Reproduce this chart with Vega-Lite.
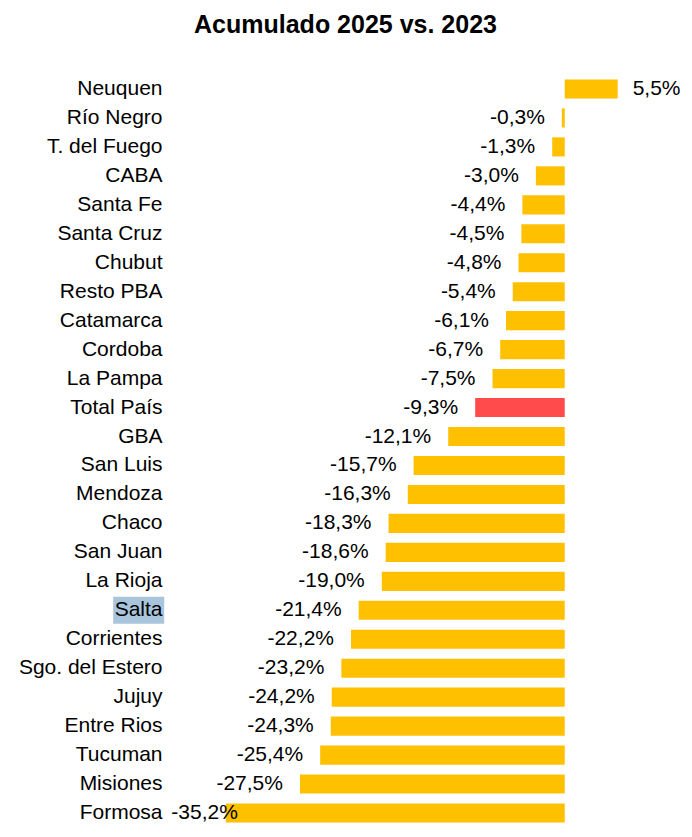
{
  "$schema": "https://vega.github.io/schema/vega-lite/v6.json",
  "autosize": {"type": "none"},
  "width": 491,
  "height": 753,
  "padding": {"left": 170, "top": 74.5, "right": 31, "bottom": 9.5},
  "background": "white",
  "title": {
    "text": "Acumulado 2025 vs. 2023",
    "font": "Liberation Sans",
    "fontWeight": "bold",
    "fontSize": 25,
    "color": "#000000",
    "anchor": "middle",
    "dx": -70,
    "offset": 37
  },
  "config": {"view": {"stroke": null}},
  "data": {
    "values": [
      {"name": "Neuquen", "value": 5.5, "label": "5,5%", "tipo": "Provincia"},
      {"name": "Río Negro", "value": -0.3, "label": "-0,3%", "tipo": "Provincia"},
      {"name": "T. del Fuego", "value": -1.3, "label": "-1,3%", "tipo": "Provincia"},
      {"name": "CABA", "value": -3.0, "label": "-3,0%", "tipo": "Provincia"},
      {"name": "Santa Fe", "value": -4.4, "label": "-4,4%", "tipo": "Provincia"},
      {"name": "Santa Cruz", "value": -4.5, "label": "-4,5%", "tipo": "Provincia"},
      {"name": "Chubut", "value": -4.8, "label": "-4,8%", "tipo": "Provincia"},
      {"name": "Resto PBA", "value": -5.4, "label": "-5,4%", "tipo": "Provincia"},
      {"name": "Catamarca", "value": -6.1, "label": "-6,1%", "tipo": "Provincia"},
      {"name": "Cordoba", "value": -6.7, "label": "-6,7%", "tipo": "Provincia"},
      {"name": "La Pampa", "value": -7.5, "label": "-7,5%", "tipo": "Provincia"},
      {"name": "Total País", "value": -9.3, "label": "-9,3%", "tipo": "Total"},
      {"name": "GBA", "value": -12.1, "label": "-12,1%", "tipo": "Provincia"},
      {"name": "San Luis", "value": -15.7, "label": "-15,7%", "tipo": "Provincia"},
      {"name": "Mendoza", "value": -16.3, "label": "-16,3%", "tipo": "Provincia"},
      {"name": "Chaco", "value": -18.3, "label": "-18,3%", "tipo": "Provincia"},
      {"name": "San Juan", "value": -18.6, "label": "-18,6%", "tipo": "Provincia"},
      {"name": "La Rioja", "value": -19.0, "label": "-19,0%", "tipo": "Provincia"},
      {"name": "Salta", "value": -21.4, "label": "-21,4%", "tipo": "Provincia"},
      {"name": "Corrientes", "value": -22.2, "label": "-22,2%", "tipo": "Provincia"},
      {"name": "Sgo. del Estero", "value": -23.2, "label": "-23,2%", "tipo": "Provincia"},
      {"name": "Jujuy", "value": -24.2, "label": "-24,2%", "tipo": "Provincia"},
      {"name": "Entre Rios", "value": -24.3, "label": "-24,3%", "tipo": "Provincia"},
      {"name": "Tucuman", "value": -25.4, "label": "-25,4%", "tipo": "Provincia"},
      {"name": "Misiones", "value": -27.5, "label": "-27,5%", "tipo": "Provincia"},
      {"name": "Formosa", "value": -35.2, "label": "-35,2%", "tipo": "Provincia"}
    ]
  },
  "encoding": {
    "y": {
      "field": "name",
      "type": "nominal",
      "sort": null,
      "scale": {"paddingInner": 0.34, "paddingOuter": 0.17},
      "axis": {
        "title": null,
        "ticks": false,
        "domain": false,
        "labelFont": "Liberation Sans",
        "labelFontSize": 21,
        "labelColor": "#000000",
        "labelPadding": 8,
        "zindex": 1
      }
    }
  },
  "layer": [
    {
      "mark": {"type": "bar"},
      "encoding": {
        "x": {
          "field": "value",
          "type": "quantitative",
          "scale": {"domain": [-41, 10], "nice": false, "zero": false},
          "axis": null
        },
        "x2": {"datum": 0},
        "color": {
          "field": "tipo",
          "type": "nominal",
          "scale": {"domain": ["Provincia", "Total"], "range": ["#FFC000", "#FF4B4B"]},
          "legend": null
        }
      }
    },
    {
      "transform": [{"filter": "datum.name === 'Salta'"}],
      "mark": {"type": "bar", "color": "#A9C5DC", "height": 27, "clip": false},
      "encoding": {
        "x": {"datum": -46.9, "type": "quantitative"},
        "x2": {"datum": -41.6}
      }
    },
    {
      "mark": {"type": "rule", "color": "#D9D9D9", "strokeWidth": 1},
      "encoding": {
        "x": {"datum": 0, "type": "quantitative"}
      }
    },
    {
      "transform": [{"filter": "datum.value < 0 && datum.value > -30"}],
      "mark": {"type": "text", "align": "right", "baseline": "middle", "dx": -17, "font": "Liberation Sans", "fontSize": 21, "color": "#000000"},
      "encoding": {
        "x": {"field": "value", "type": "quantitative"},
        "text": {"field": "label"}
      }
    },
    {
      "transform": [{"filter": "datum.value <= -30"}],
      "mark": {"type": "text", "align": "right", "baseline": "middle", "dx": 12, "font": "Liberation Sans", "fontSize": 21, "color": "#000000"},
      "encoding": {
        "x": {"field": "value", "type": "quantitative"},
        "text": {"field": "label"}
      }
    },
    {
      "transform": [{"filter": "datum.value > 0"}],
      "mark": {"type": "text", "align": "left", "baseline": "middle", "dx": 15, "font": "Liberation Sans", "fontSize": 21, "color": "#000000"},
      "encoding": {
        "x": {"field": "value", "type": "quantitative"},
        "text": {"field": "label"}
      }
    }
  ]
}
